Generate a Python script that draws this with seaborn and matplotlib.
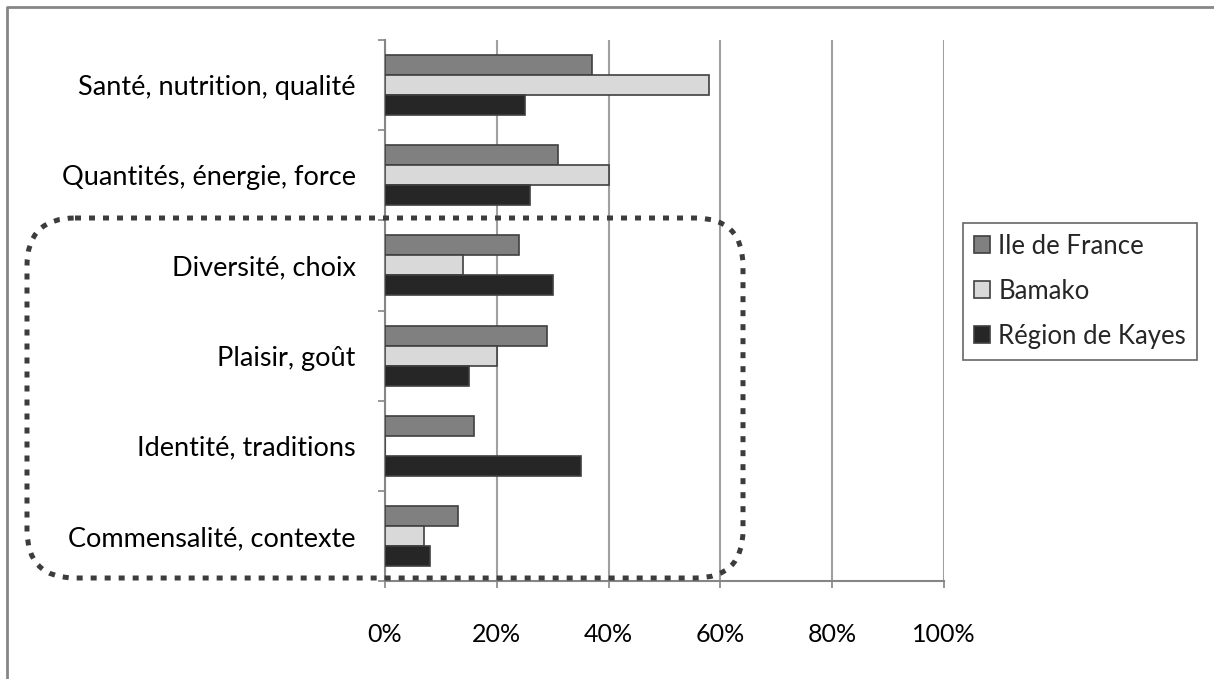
import matplotlib
matplotlib.use("Agg")
import matplotlib.pyplot as plt
from matplotlib.patches import FancyBboxPatch
import seaborn as sns
import pandas as pd

# categories and values (% of responses)
categories = ["Santé, nutrition, qualité", "Quantités, énergie, force", "Diversité, choix",
              "Plaisir, goût", "Identité, traditions", "Commensalité, contexte"]
series = ["Ile de France", "Bamako", "Région de Kayes"]
ile_de_france = [37, 31, 24, 29, 16, 13]
bamako = [58, 40, 14, 20, 0, 7]
kayes = [25, 26, 30, 15, 35, 8]
x_ticks = [0, 20, 40, 60, 80, 100]

colors = ["#808080", "#d9d9d9", "#262626"]

rows = []
for s, vals in zip(series, [ile_de_france, bamako, kayes]):
    for c, v in zip(categories, vals):
        rows.append({"categorie": c, "serie": s, "valeur": v})
df = pd.DataFrame(rows)

sns.set_theme(style="white")
plt.rcParams["font.family"] = ["Lato", "DejaVu Sans"]

W, H = 1214, 679
fig = plt.figure(figsize=(W / 100, H / 100), dpi=100)
ax = fig.add_axes([385 / W, 1 - 581 / H, 559 / W, 541 / H])

sns.barplot(data=df, y="categorie", x="valeur", hue="serie", order=categories,
            hue_order=series, palette=colors, orient="h", width=0.667,
            edgecolor="#404040", linewidth=1.2, ax=ax, zorder=3)

ax.set_xlim(0, 100)
ax.set_ylim(5.5, -0.5)
ax.set_xticks(x_ticks)
ax.set_xticklabels([f"{t}%" for t in x_ticks], fontsize=18, color="black")
ax.set_yticks(range(len(categories)))
ax.set_yticklabels(categories, fontsize=19.5, color="black")
ax.set_yticks([i - 0.5 for i in range(len(categories) + 1)], minor=True)
ax.tick_params(axis="y", which="major", length=0, pad=21)
ax.tick_params(axis="y", which="minor", length=5, width=1.2, color="#868686", direction="out", left=True)
ax.tick_params(axis="x", which="major", length=5, width=1.2, color="#868686", direction="out", bottom=True, pad=25)
ax.set_xlabel("")
ax.set_ylabel("")
ax.xaxis.grid(True, color="#a0a0a0", linewidth=1.5, zorder=0)
ax.set_axisbelow(True)
for side in ["top", "right"]:
    ax.spines[side].set_visible(False)
for side in ["left", "bottom"]:
    ax.spines[side].set_color("#868686")
    ax.spines[side].set_linewidth(1.5)

handles, labels = ax.get_legend_handles_labels()
ax.get_legend().remove()
leg = fig.legend(handles, labels, loc="upper left", bbox_to_anchor=(963 / W, 1 - 223 / H),
                 fontsize=18.5, frameon=True, fancybox=False, handlelength=0.65, handleheight=0.65,
                 handletextpad=0.3, labelspacing=0.78, borderpad=0.42, borderaxespad=0)
leg.get_frame().set_edgecolor("#404040")
leg.get_frame().set_linewidth(1.2)

# overlay in pixel coordinates for the border and the dotted highlight box
ov = fig.add_axes([0, 0, 1, 1], zorder=10)
ov.set_xlim(0, W)
ov.set_ylim(H, 0)
ov.patch.set_alpha(0)
ov.axis("off")
ov.plot([7, 7, W + 5], [H + 5, 7, 7], color="#868686", linewidth=2, solid_capstyle="butt")
box = FancyBboxPatch((27, 218), 716, 360, boxstyle="round,pad=0,rounding_size=48",
                     fill=False, edgecolor="#3c3c3c", linewidth=3.6, linestyle=(0, (1.2, 1.6)))
ov.add_patch(box)

fig.savefig("out.png", dpi=100)
